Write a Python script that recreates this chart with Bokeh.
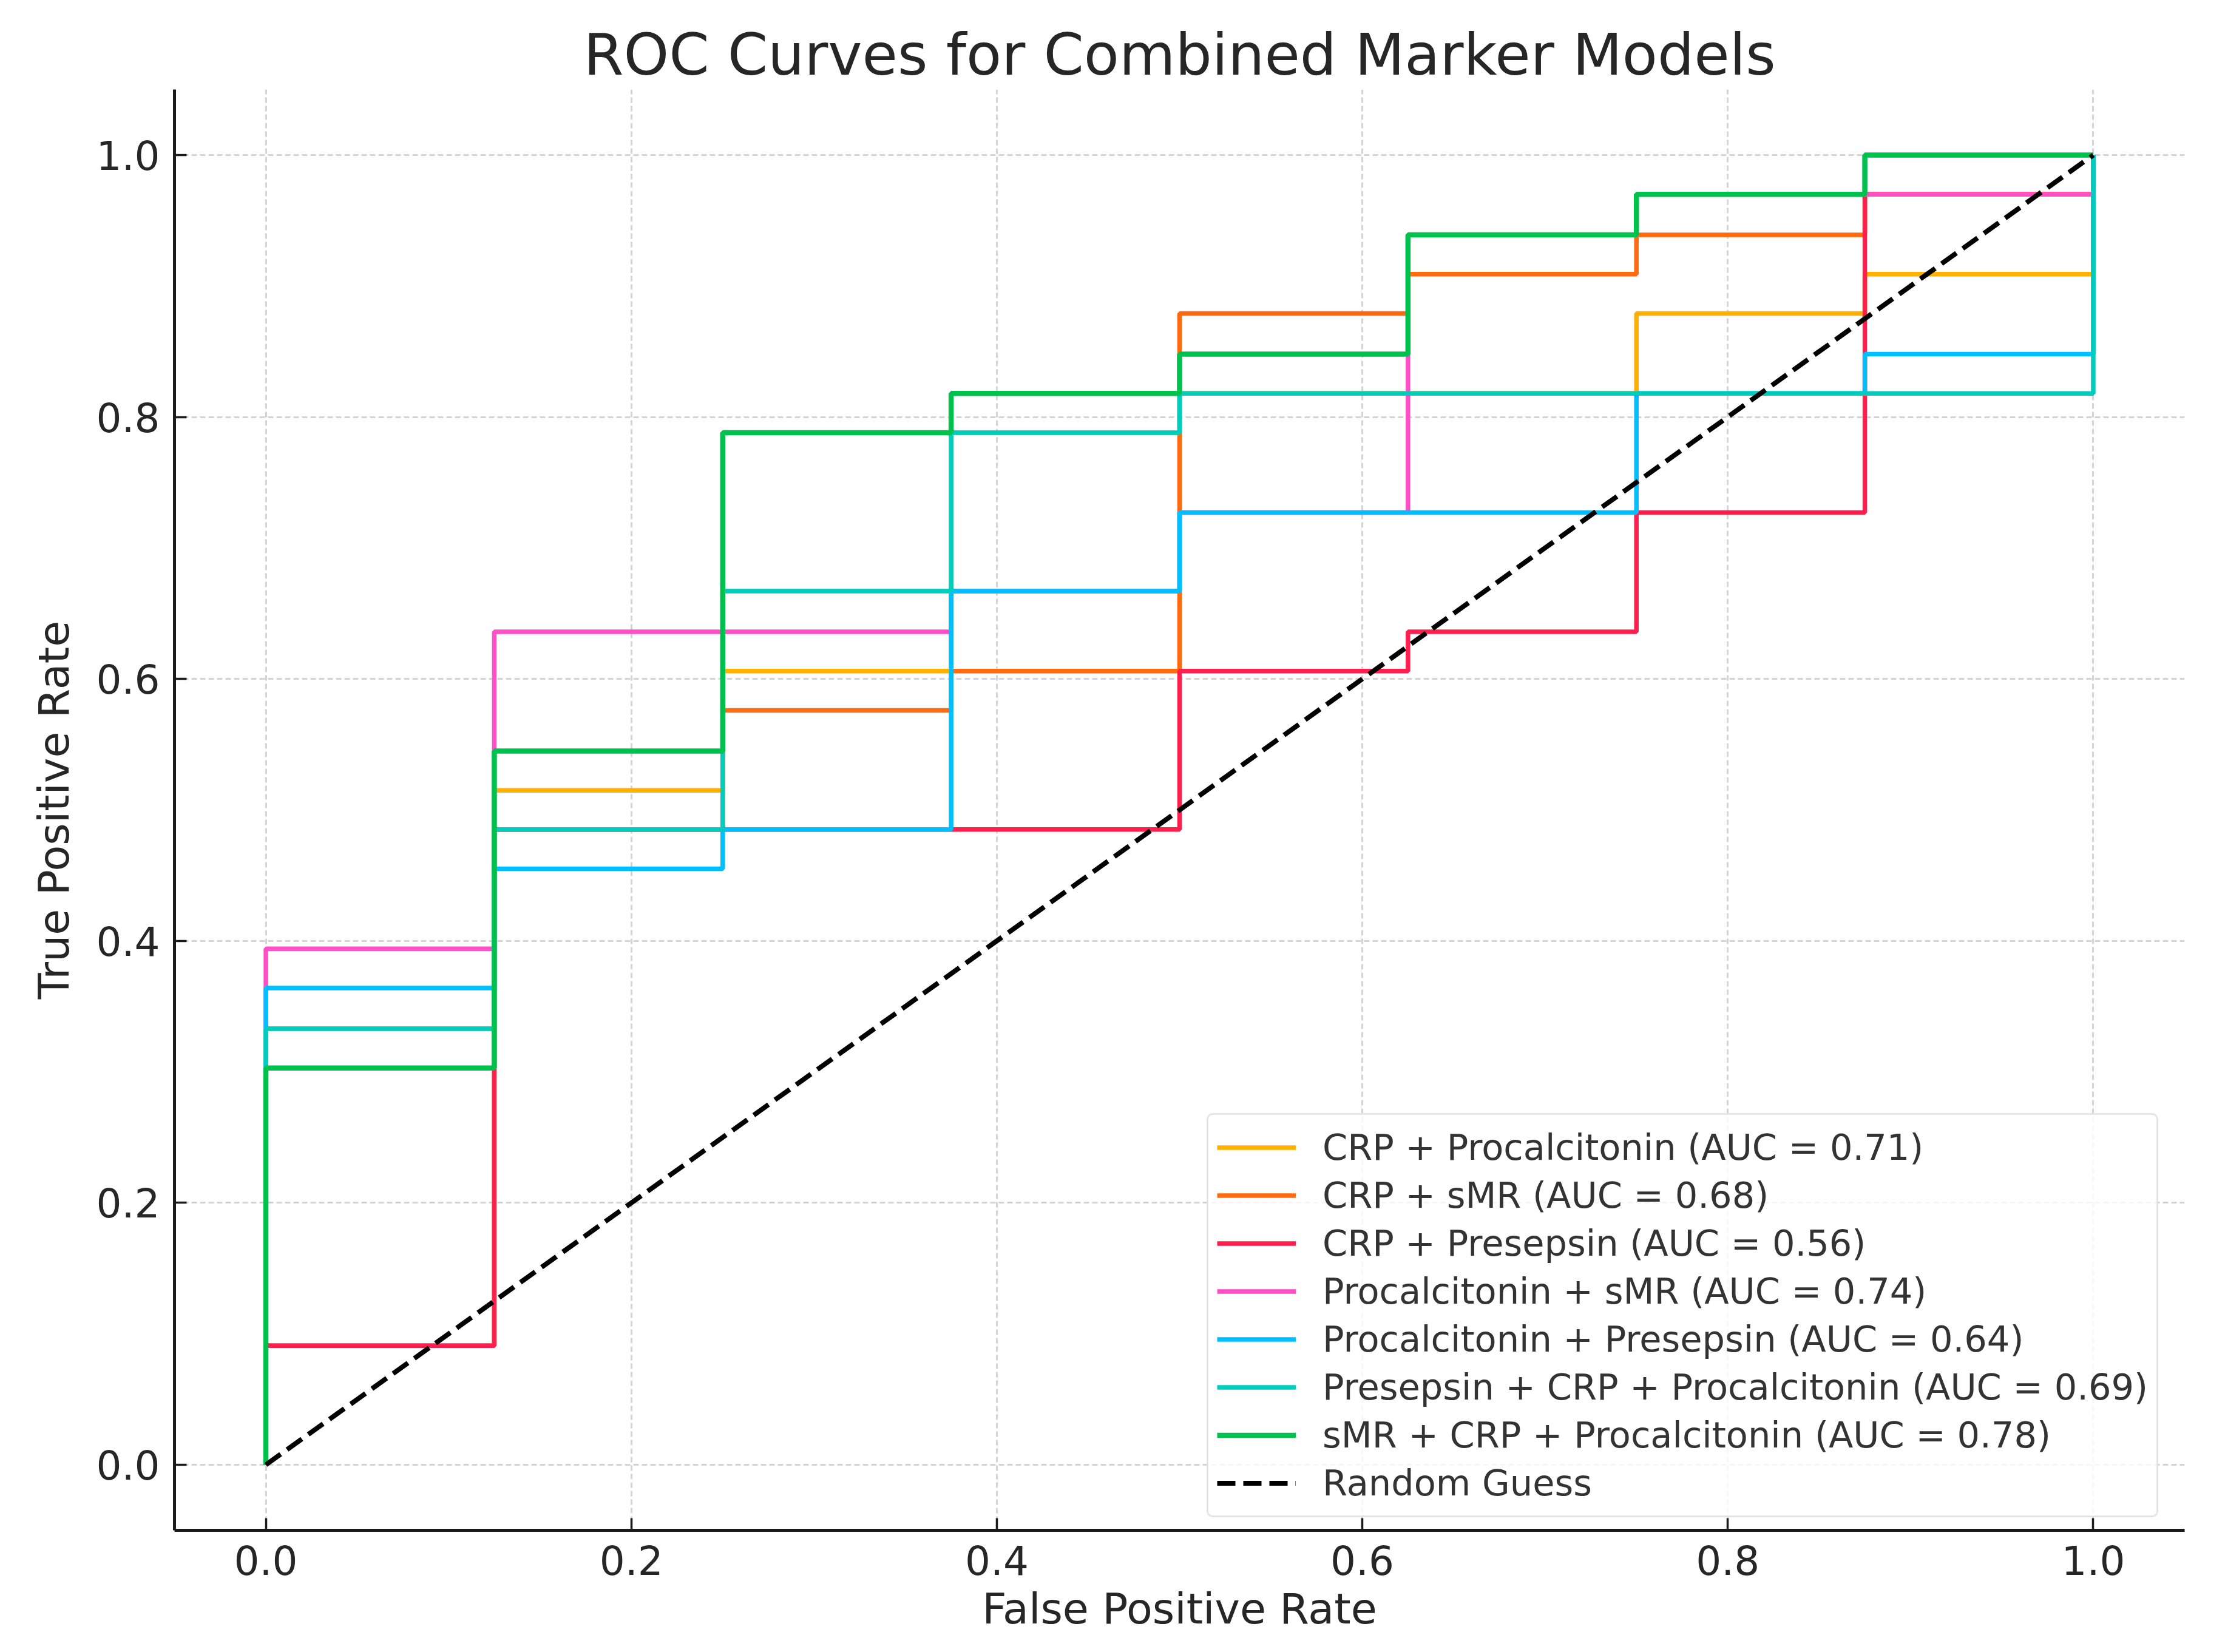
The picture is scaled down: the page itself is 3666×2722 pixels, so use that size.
from bokeh.plotting import figure
from bokeh.models import Range1d, FixedTicker, PrintfTickFormatter, Legend, LegendItem
from bokeh.embed import file_html
from bokeh.resources import INLINE

# ---- data ----
names = [
    "CRP + Procalcitonin (AUC = 0.71)",
    "CRP + sMR (AUC = 0.68)",
    "CRP + Presepsin (AUC = 0.56)",
    "Procalcitonin + sMR (AUC = 0.74)",
    "Procalcitonin + Presepsin (AUC = 0.64)",
    "Presepsin + CRP + Procalcitonin (AUC = 0.69)",
    "sMR + CRP + Procalcitonin (AUC = 0.78)",
]
colors = ["#FFB000", "#FF6A0E", "#FF1F4F", "#FF4FC6", "#00BFFF", "#00CDBE", "#00C04E"]

crp_pct_fpr = [0, 0, 0.125, 0.125, 0.25, 0.25, 0.375, 0.375, 0.5, 0.5, 0.75, 0.75, 0.875, 0.875, 1.0, 1.0]
crp_pct_tpr = [0, 0.333, 0.333, 0.515, 0.515, 0.606, 0.606, 0.788, 0.788, 0.818, 0.818, 0.879, 0.879, 0.909, 0.909, 1.0]

crp_smr_fpr = [0, 0, 0.125, 0.125, 0.25, 0.25, 0.375, 0.375, 0.5, 0.5, 0.625, 0.625, 0.75, 0.75, 0.875, 0.875, 1.0, 1.0]
crp_smr_tpr = [0, 0.091, 0.091, 0.485, 0.485, 0.576, 0.576, 0.606, 0.606, 0.879, 0.879, 0.909, 0.909, 0.939, 0.939, 0.970, 0.970, 1.0]

crp_pre_fpr = [0, 0, 0.125, 0.125, 0.5, 0.5, 0.625, 0.625, 0.75, 0.75, 0.875, 0.875, 1.0, 1.0]
crp_pre_tpr = [0, 0.091, 0.091, 0.485, 0.485, 0.606, 0.606, 0.636, 0.636, 0.727, 0.727, 0.970, 0.970, 1.0]

pct_smr_fpr = [0, 0, 0.125, 0.125, 0.375, 0.375, 0.5, 0.5, 0.625, 0.625, 0.75, 0.75, 1.0, 1.0]
pct_smr_tpr = [0, 0.394, 0.394, 0.636, 0.636, 0.667, 0.667, 0.727, 0.727, 0.939, 0.939, 0.970, 0.970, 1.0]

pct_pre_fpr = [0, 0, 0.125, 0.125, 0.25, 0.25, 0.375, 0.375, 0.5, 0.5, 0.75, 0.75, 0.875, 0.875, 1.0, 1.0]
pct_pre_tpr = [0, 0.364, 0.364, 0.455, 0.455, 0.485, 0.485, 0.667, 0.667, 0.727, 0.727, 0.818, 0.818, 0.848, 0.848, 1.0]

pre_crp_pct_fpr = [0, 0, 0.125, 0.125, 0.25, 0.25, 0.375, 0.375, 0.5, 0.5, 1.0, 1.0]
pre_crp_pct_tpr = [0, 0.333, 0.333, 0.485, 0.485, 0.667, 0.667, 0.788, 0.788, 0.818, 0.818, 1.0]

smr_crp_pct_fpr = [0, 0, 0.125, 0.125, 0.25, 0.25, 0.375, 0.375, 0.5, 0.5, 0.625, 0.625, 0.75, 0.75, 0.875, 0.875, 1.0]
smr_crp_pct_tpr = [0, 0.303, 0.303, 0.545, 0.545, 0.788, 0.788, 0.818, 0.818, 0.848, 0.848, 0.939, 0.939, 0.970, 0.970, 1.0, 1.0]

random_fpr = [0, 1]
random_tpr = [0, 1]

ticks = [0.0, 0.2, 0.4, 0.6, 0.8, 1.0]

curves = [
    (crp_pct_fpr, crp_pct_tpr),
    (crp_smr_fpr, crp_smr_tpr),
    (crp_pre_fpr, crp_pre_tpr),
    (pct_smr_fpr, pct_smr_tpr),
    (pct_pre_fpr, pct_pre_tpr),
    (pre_crp_pct_fpr, pre_crp_pct_tpr),
    (smr_crp_pct_fpr, smr_crp_pct_tpr),
]
widths = [7.5, 7.5, 7.5, 7.5, 7.5, 7.5, 8.5]

FONT = "DejaVu Sans"
TXT = "#262626"

p = figure(
    frame_width=3312, frame_height=2374,
    x_range=Range1d(-0.05, 1.05), y_range=Range1d(-0.05, 1.05),
    output_backend="svg", toolbar_location=None,
    min_border_left=287, min_border_right=51, min_border_top=147, min_border_bottom=185,
    title="ROC Curves for Combined Marker Models",
)
p.outline_line_color = None
p.background_fill_color = "white"
p.border_fill_color = "white"

p.title.text_font = FONT
p.title.text_font_size = "95px"
p.title.text_font_style = "normal"
p.title.text_color = TXT
p.title.align = "center"
p.title.standoff = 5

for ax in (p.xaxis[0], p.yaxis[0]):
    ax.ticker = FixedTicker(ticks=ticks)
    ax.formatter = PrintfTickFormatter(format="%.1f")
    ax.axis_line_width = 5
    ax.axis_line_color = "#1a1a1a"
    ax.major_tick_line_width = 3.5
    ax.major_tick_line_color = "#1a1a1a"
    ax.major_tick_out = 0
    ax.major_tick_in = 20
    ax.minor_tick_line_color = None
    ax.major_label_text_font = FONT
    ax.major_label_text_font_size = "66px"
    ax.major_label_text_color = TXT
    ax.axis_label_text_font = FONT
    ax.axis_label_text_font_size = "70px"
    ax.axis_label_text_font_style = "normal"
    ax.axis_label_text_color = TXT

p.xaxis.axis_label = "False Positive Rate"
p.yaxis.axis_label = "True Positive Rate"
p.xaxis.major_label_standoff = 24
p.yaxis.major_label_standoff = 24
p.xaxis.axis_label_standoff = 12
p.yaxis.axis_label_standoff = 26

for g in (p.xgrid[0], p.ygrid[0]):
    g.ticker = FixedTicker(ticks=ticks)
    g.grid_line_color = "#d4d4d4"
    g.grid_line_width = 3
    g.grid_line_dash = "9 5"

items = []
for (fx, ty), name, col, w in zip(curves, names, colors, widths):
    r = p.line(fx, ty, line_color=col, line_width=w)
    items.append(LegendItem(label=name, renderers=[r]))

rg = p.line(random_fpr, random_tpr, line_color="black", line_width=8, line_dash="30 13")
items.append(LegendItem(label="Random Guess", renderers=[rg]))

legend = Legend(items=items, location=(1701, 21))
legend.margin = 0
legend.padding = 14
legend.spacing = 0
legend.glyph_width = 130
legend.glyph_height = 79
legend.label_height = 79
legend.label_standoff = 44
legend.label_text_font = FONT
legend.label_text_font_size = "59px"
legend.label_text_color = "#333333"
legend.border_line_color = "#cccccc"
legend.border_line_width = 3
legend.background_fill_color = "white"
legend.background_fill_alpha = 0.8
try:
    legend.border_radius = 10
except Exception:
    pass
p.add_layout(legend, "center")

open("out.html", "w").write(file_html(p, INLINE))
